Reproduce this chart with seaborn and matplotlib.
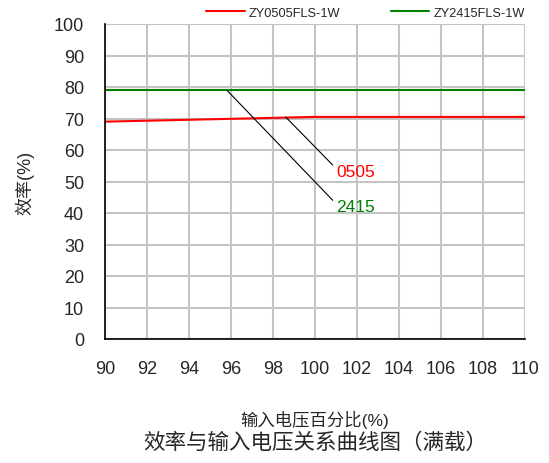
import matplotlib
matplotlib.use("Agg")
import matplotlib.pyplot as plt
import seaborn as sns
import pandas as pd

# Data
x_0505 = [90, 100, 110]
y_0505 = [69.0, 70.5, 70.5]
x_2415 = [90, 100, 110]
y_2415 = [79.0, 79.0, 79.0]
series_names = ["ZY0505FLS-1W", "ZY2415FLS-1W"]
series_colors = ["#ff0000", "#008000"]
x_ticks = list(range(90, 111, 2))
y_ticks = list(range(0, 101, 10))
ann_labels = ["0505", "2415"]
ann_points = [(98.6, 70.5), (95.8, 79.0)]
ann_text_pos = [(101.0, 53.2), (101.0, 42.0)]

df = pd.concat([
    pd.DataFrame({"x": x_0505, "y": y_0505, "series": series_names[0]}),
    pd.DataFrame({"x": x_2415, "y": y_2415, "series": series_names[1]}),
])

sns.set_style("white")
plt.rcParams['font.family'] = ['Liberation Sans', 'Noto Sans CJK SC', 'DejaVu Sans']

fig = plt.figure(figsize=(5.49, 4.64), dpi=100)
ax = fig.add_axes([105/549, 1-340/464, 420/549, 315/464])

sns.lineplot(data=df, x="x", y="y", hue="series", palette=series_colors,
             linewidth=1.5, ax=ax, legend=True)

ax.set_xlim(90, 110)
ax.set_ylim(0, 100)
ax.set_xticks(x_ticks)
ax.set_yticks(y_ticks)
ax.grid(True, color="#c4c4c4", linewidth=1.5)
ax.set_axisbelow(True)
for s in ["top", "right"]:
    ax.spines[s].set_visible(False)
for s in ["left", "bottom"]:
    ax.spines[s].set_color("black")
    ax.spines[s].set_linewidth(1.2)
ax.tick_params(axis="both", direction="in", length=5, width=1, color="black",
               labelsize=13, pad=15)

ax.set_xlabel("输入电压百分比(%)", fontsize=12.5)
ax.xaxis.label.set_va("center")
ax.xaxis.set_label_coords(0.5, -(420 - 340) / 315)
ax.set_ylabel("效率(%)", fontsize=13, labelpad=14)

leg = ax.legend(loc="lower center", bbox_to_anchor=(0.62, 1.0), ncol=2,
                frameon=False, fontsize=9.2, handlelength=3.0, columnspacing=4.0,
                borderaxespad=0, handletextpad=0.3)

for lab, pt, tp, col in zip(ann_labels, ann_points, ann_text_pos, series_colors):
    ax.annotate(lab, xy=pt, xytext=tp, color=col, fontsize=12.5,
                ha="left", va="center",
                arrowprops=dict(arrowstyle="-", color="black", lw=0.8,
                                shrinkA=0, shrinkB=0, relpos=(0, 0.7)))

fig.text(315/549, 1-443/464, "效率与输入电压关系曲线图（满载）", fontsize=15.5,
         ha="center", va="center")

fig.savefig("out.png", dpi=100)
